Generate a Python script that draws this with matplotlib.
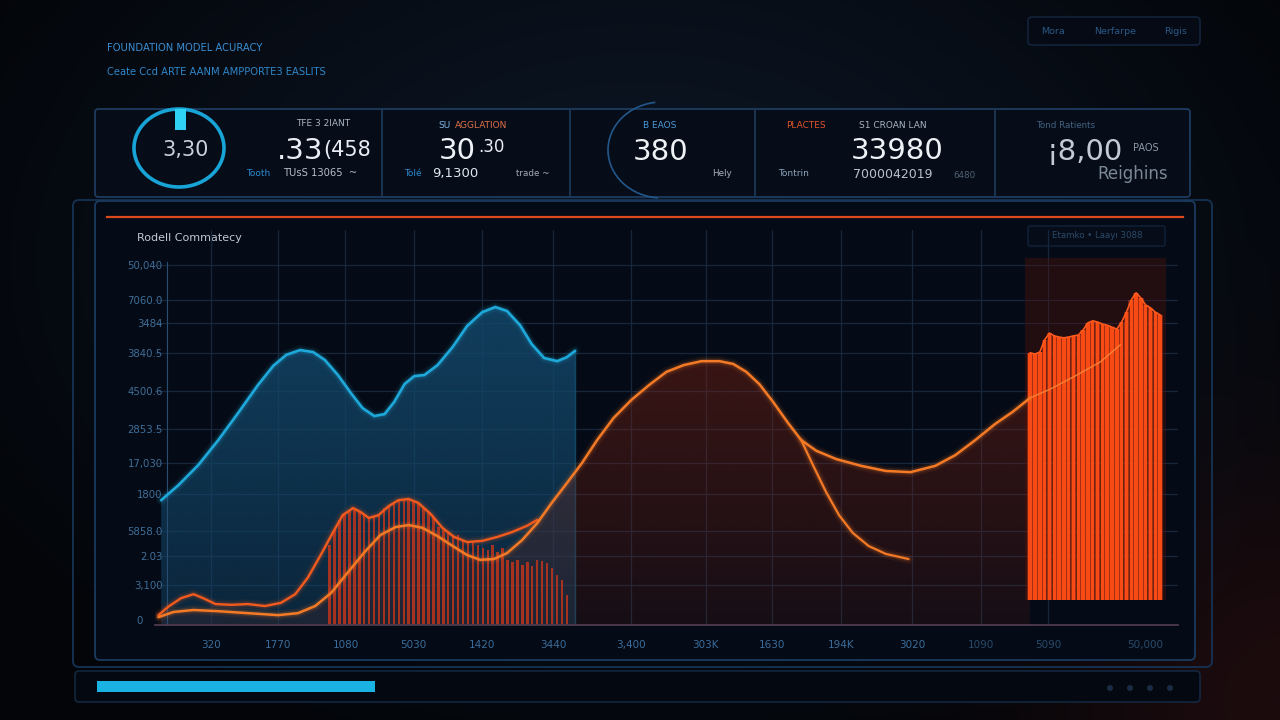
import numpy as np
import matplotlib
matplotlib.use("Agg")
import matplotlib.pyplot as plt
from matplotlib.patches import Rectangle, FancyBboxPatch, Ellipse, Arc

plt.rcParams['font.family'] = ['DejaVu Sans']

# ---------------- data ----------------
blue_x = [0.04, 0.29, 0.58, 0.87, 1.16, 1.45, 1.67, 1.86, 2.06, 2.25, 2.42, 2.61, 2.80, 2.97,
          3.14, 3.29, 3.43, 3.58, 3.72, 3.87, 4.06, 4.28, 4.49, 4.71, 4.90, 5.07, 5.26, 5.43,
          5.61, 5.80, 5.94, 6.06]
blue_y = [31.6, 35.4, 40.5, 46.8, 53.7, 60.8, 65.6, 68.4, 69.6, 69.1, 67.1, 63.3, 58.7, 54.9,
          52.9, 53.4, 56.5, 61.0, 63.0, 63.3, 65.8, 70.4, 75.7, 79.2, 80.5, 79.5, 75.9, 71.1,
          67.6, 66.8, 67.8, 69.4]

orA_x = [0.0, 0.14, 0.33, 0.51, 0.65, 0.83, 1.06, 1.30, 1.55, 1.78, 1.99, 2.17, 2.36, 2.54,
         2.68, 2.83, 2.94, 3.06, 3.20, 3.35, 3.49, 3.64, 3.78, 3.96, 4.13, 4.30, 4.49, 4.71,
         4.93, 5.14, 5.36, 5.51]
orA_y = [2.5, 4.6, 6.8, 7.8, 6.8, 5.3, 5.1, 5.3, 4.8, 5.6, 7.8, 11.9, 17.7, 23.5,
         27.8, 29.6, 28.6, 27.1, 27.8, 30.1, 31.6, 31.9, 30.9, 28.1, 24.6, 22.3, 21.0, 21.3,
         22.3, 23.5, 25.1, 26.6]

orB_x = [0.0, 0.22, 0.51, 0.87, 1.30, 1.74, 2.03, 2.28, 2.51, 2.75, 3.00, 3.23, 3.45, 3.64,
         3.84, 4.06, 4.28, 4.49, 4.68, 4.88, 5.07, 5.29, 5.51, 5.72, 5.94, 6.16, 6.38, 6.62,
         6.88, 7.14, 7.39, 7.64, 7.90, 8.16, 8.36, 8.55, 8.74, 8.94, 9.16, 9.35, 9.57, 9.86,
         10.22, 10.58, 10.94, 11.30, 11.59, 11.88, 12.17, 12.42, 12.68]
orB_y = [2.0, 3.3, 3.8, 3.5, 3.0, 2.5, 3.0, 4.8, 8.1, 13.2, 18.5, 22.8, 24.8, 25.3,
         24.6, 22.5, 20.0, 17.7, 16.5, 16.7, 18.2, 21.5, 25.8, 30.9, 35.9, 41.0, 46.8, 52.4,
         57.0, 60.8, 64.1, 65.8, 66.8, 66.8, 66.1, 64.1, 61.0, 56.5, 51.1, 46.8, 44.1, 42.0,
         40.3, 39.0, 38.7, 40.3, 43.0, 46.8, 50.9, 53.9, 57.5]
# continuation of the main orange line inside the bar block
orB2_x = [12.68, 12.97, 13.33, 13.70, 13.99]
orB2_y = [57.5, 59.7, 63.0, 66.6, 70.9]

orC_x = [9.35, 9.52, 9.71, 9.90, 10.10, 10.33, 10.58, 10.91]
orC_y = [46.8, 40.5, 33.7, 27.8, 23.3, 20.0, 18.0, 16.7]

small_bars = [20.3, 24.1, 26.6, 28.4, 29.1, 29.6, 28.9, 27.8, 27.3, 27.3, 28.1, 29.6, 30.4,
              31.1, 31.6, 31.9, 31.9, 31.4, 30.6, 29.6, 28.4, 27.1, 24.8, 24.1, 23.3, 22.3,
              22.8, 21.5, 21.0, 21.0, 20.3, 19.5, 19.0, 20.3, 18.5, 19.5, 16.5, 15.9, 16.5,
              15.2, 15.9, 14.9, 16.5, 16.2, 15.7, 14.4, 12.7, 11.4, 7.6]
small_bar_range = (2.49, 5.94)

right_bars = [68.9, 68.6, 69.1, 72.2, 73.9, 73.2, 72.9, 72.7, 72.9, 73.2, 73.4, 74.7, 76.5,
              77.0, 76.7, 76.2, 75.9, 75.4, 74.9, 76.7, 79.2, 82.3, 84.1, 82.8, 81.0, 80.3,
              79.2, 78.5]
right_bar_range = (12.68, 14.57)
right_bar_base = 6.3

y_ticks = [91.1, 82.3, 76.5, 68.9, 59.2, 49.6, 41.0, 33.2, 23.8, 17.5, 10.1]
y_labels = ["50,040", "7060.0", "3484", "3840.5", "4500.6", "2853.5", "17,030", "1800",
            "5858.0", "2.03", "3,100"]
y_zero_label = ("0", 1.0)
x_ticks = [0.77, 1.74, 2.72, 3.71, 4.71, 5.74, 6.87, 7.96, 8.93, 9.93, 10.96, 11.97, 12.94, 14.35]
x_labels = ["320", "1770", "1080", "5030", "1420", "3440", "3,400", "303K", "1630", "194K",
            "3020", "1090", "5090", "50,000"]

# ---------------- figure & background ----------------
fig = plt.figure(figsize=(12.8, 7.2), dpi=100)
bg = fig.add_axes([0, 0, 1, 1])
bg.axis('off')

yy, xx = np.mgrid[0:720:2, 0:1280:2]
d = np.sqrt(((xx - 640) / 760.0) ** 2 + ((yy - 260) / 520.0) ** 2)
t = np.clip(d, 0, 1) ** 1.2
c_center = np.array([0.05, 0.09, 0.15])
c_edge = np.array([0.012, 0.02, 0.035])
img = c_center[None, None, :] * (1 - t[..., None]) + c_edge[None, None, :] * t[..., None]
red = np.exp(-((xx - 1290) ** 2 + (yy - 700) ** 2) / (2 * 170.0 ** 2))
img = img + red[..., None] * np.array([0.10, 0.025, 0.02])
bg.imshow(np.clip(img, 0, 1), extent=[0, 1280, 720, 0], aspect='auto', zorder=0)
bg.set_xlim(0, 1280)
bg.set_ylim(720, 0)


def rbox(x0, y0, x1, y1, ec, fc='none', lw=1.0, r=4, z=1, alpha=1.0):
    p = FancyBboxPatch((x0, y0), x1 - x0, y1 - y0, boxstyle=f"round,pad=0,rounding_size={r}",
                       ec=ec, fc=fc, lw=lw, zorder=z, alpha=alpha)
    bg.add_patch(p)


# header
bg.text(107, 48, "FOUNDATION MODEL ACURACY", color='#3b8fd4', fontsize=7.2, va='center', ha='left')
bg.text(107, 72, "Ceate Ccd ARTE AANM AMPPORTE3 EASLITS", color='#2f86c8', fontsize=7.2,
        va='center', ha='left')
rbox(1028, 17, 1200, 45, ec='#12233a', fc='#050a14', lw=1.2, r=4)
for tx, s in [(1053, "Mora"), (1115, "Nerfarpe"), (1176, "Rigis")]:
    bg.text(tx, 31, s, color='#2a5886', fontsize=6.8, ha='center', va='center')

# KPI strip
rbox(95, 109, 1190, 197, ec='#1c3858', fc='#060d19', lw=1.4, r=3)
for sx in [382, 570, 755, 995]:
    bg.plot([sx, sx], [111, 195], color='#1c3858', lw=1.3, zorder=2)

bg.add_patch(Ellipse((179, 148), 90, 78, fill=False, ec='#18a4d6', lw=2.6, zorder=3))
bg.add_patch(Rectangle((175, 109), 11, 21, fc='#2fd2f2', ec='none', zorder=4))
bg.text(186, 150, "3,30", color='#c8d2dc', fontsize=15, ha='center', va='center', zorder=5)

bg.text(323, 124, "TFE 3 2IANT", color='#a9b4c1', fontsize=6.5, ha='center', va='center')
bg.text(323, 151, ".33", color='#e8eef4', fontsize=21, ha='right', va='center')
bg.text(323, 150, "(458", color='#e8eef4', fontsize=15, ha='left', va='center')
bg.text(258, 173, "Tooth", color='#2a8ad0', fontsize=6.5, ha='center', va='center')
bg.text(320, 173, "TUsS 13065  ~", color='#b4bec9', fontsize=7.2, ha='center', va='center')

bg.text(451, 125, "SU", color='#7fb6e6', fontsize=6.5, ha='right', va='center')
bg.text(455, 125, "AGGLATION", color='#e0714a', fontsize=6.5, ha='left', va='center')
bg.text(476, 151, "30", color='#eef2f6', fontsize=21, ha='right', va='center')
bg.text(478, 147, ".30", color='#e8eef4', fontsize=12, ha='left', va='center')
bg.text(413, 173, "Tolé", color='#2a8ad0', fontsize=6.5, ha='center', va='center')
bg.text(455, 173, "9,1300", color='#dfe6ee', fontsize=9.5, ha='center', va='center')
bg.text(533, 174, "trade ~", color='#a0aab6', fontsize=6.3, ha='center', va='center')

bg.add_patch(Arc((662, 150), 108, 96, theta1=95, theta2=262, ec='#23578a', lw=1.2, zorder=3))
bg.text(660, 125, "B EAOS", color='#4a9ad8', fontsize=6.5, ha='center', va='center')
bg.text(661, 152, "380", color='#eef2f6', fontsize=21, ha='center', va='center')
bg.text(722, 174, "Hely", color='#a7b1bd', fontsize=6.3, ha='center', va='center')

bg.text(806, 125, "PLACTES", color='#e0522a', fontsize=6.5, ha='center', va='center')
bg.text(893, 125, "S1 CROAN LAN", color='#a9b4c1', fontsize=6.5, ha='center', va='center')
bg.text(897, 151, "33980", color='#eef2f6', fontsize=21, ha='center', va='center')
bg.text(794, 174, "Tontrin", color='#8ea3ba', fontsize=6.5, ha='center', va='center')
bg.text(893, 175, "7000042019", color='#b9c2cc', fontsize=9, ha='center', va='center')
bg.text(965, 175, "6480", color='#4f5f70', fontsize=6.3, ha='center', va='center')

bg.text(1066, 125, "Tond Ratients", color='#43617f', fontsize=6.3, ha='center', va='center')
bg.text(1085, 152, "¡8,00", color='#c3cbd4', fontsize=21, ha='center', va='center')
bg.text(1146, 148, "PAOS", color='#8c98a5', fontsize=7, ha='center', va='center')
bg.text(1133, 174, "Reighins", color='#7a8795', fontsize=12, ha='center', va='center')

# chart panel frames
rbox(73, 200, 1212, 667, ec='#15304f', fc='none', lw=1.4, r=6)
rbox(95, 201, 1195, 660, ec='#1a3a5e', fc='#050b16', lw=1.3, r=5, alpha=1.0)
bg.plot([107, 1183], [217, 217], color='#d9491c', lw=1.6, zorder=3)
bg.text(137, 238, "Rodell Commatecy", color='#c0c8d2', fontsize=8, ha='left', va='center')
rbox(1028, 226, 1165, 246, ec='#10223a', fc='#060c18', lw=1.0, r=2)
bg.text(1097, 236, "Etamko • Laayı 3088", color='#2a4a6a', fontsize=6.2, ha='center', va='center')

# bottom progress bar
rbox(75, 671, 1200, 702, ec='#13273f', fc='#040810', lw=1.2, r=4)
bg.add_patch(Rectangle((97, 681), 278, 11, fc='#19b2e2', ec='none', zorder=3))
for dx in [1110, 1130, 1150, 1170]:
    bg.add_patch(Ellipse((dx, 688), 6, 6, fc='#1a2d45', ec='none', zorder=3))

# ---------------- chart ----------------
ax = fig.add_axes([155 / 1280, (720 - 625) / 720, (1178 - 155) / 1280, 395 / 720])
ax.set_facecolor('none')
XLIM = (-0.05, 14.83)
YLIM = (0, 100)
SPINE_X = 0.12

for s in ['top', 'right']:
    ax.spines[s].set_visible(False)
ax.spines['left'].set_position(('data', SPINE_X))
ax.spines['left'].set_bounds(0, 92)
ax.spines['left'].set_color('#2a4d72')
ax.spines['bottom'].set_color('#4e3a4c')
ax.spines['bottom'].set_linewidth(1.3)

for yt in y_ticks:
    ax.axhline(yt, color='#15263d', lw=0.9, zorder=0.5)
for xt in x_ticks[:-1]:
    ax.axvline(xt, color='#15263d', lw=0.9, zorder=0.5)


def grad_fill(x, y, rgb, a_top, a_bot, z):
    poly = ax.fill_between(x, y, 0, color='none', lw=0)
    ymax = max(y)
    n = 256
    a = np.linspace(a_bot, a_top, n)
    arr = np.zeros((n, 2, 4))
    arr[..., :3] = matplotlib.colors.to_rgb(rgb)
    arr[..., 3] = a[:, None]
    im = ax.imshow(arr, extent=[min(x), max(x), 0, ymax], origin='lower', aspect='auto',
                   zorder=z, interpolation='bilinear')
    im.set_clip_path(poly.get_paths()[0], transform=ax.transData)


grad_fill(blue_x, blue_y, '#13476a', 0.85, 0.45, 1)
ax.plot([blue_x[-1], blue_x[-1]], [0, blue_y[-1]], color='#1a6d95', lw=1.0, alpha=0.6, zorder=1.5)
grad_fill(orB_x, orB_y, '#7a2212', 0.45, 0.15, 1.6)

# small red bars
sb_x = np.linspace(small_bar_range[0], small_bar_range[1], len(small_bars))
ax.bar(sb_x, small_bars, width=0.036, color='#c0341c', alpha=0.85, zorder=2, lw=0)

# right block
rb_x = np.linspace(right_bar_range[0], right_bar_range[1], len(right_bars))
ax.add_patch(Rectangle((rb_x[0] - 0.08, right_bar_base), rb_x[-1] - rb_x[0] + 0.16,
                       93 - right_bar_base, fc='#5a1208', ec='none', alpha=0.35, zorder=1.7))
rb_h = [v - right_bar_base for v in right_bars]
ax.bar(rb_x, rb_h, bottom=right_bar_base, width=0.085, color='#ff4a14', alpha=0.35, zorder=2.5, lw=0)
ax.bar(rb_x, rb_h, bottom=right_bar_base, width=0.05, color='#ff4d16', alpha=0.95, zorder=2.6, lw=0)
ax.plot(rb_x, right_bars, color='#ff5a1e', lw=1.2, zorder=2.7)


def glow(x, y, color, lw=1.7, z=4):
    for w, a in [(7, 0.07), (4, 0.16)]:
        ax.plot(x, y, color=color, lw=w, alpha=a, solid_capstyle='round', zorder=z)
    ax.plot(x, y, color=color, lw=lw, zorder=z + 0.1, solid_capstyle='round')


glow(blue_x, blue_y, '#1ea9da', lw=1.9)
glow(orA_x, orA_y, '#f25a1e', lw=1.7)
glow(orB_x, orB_y, '#f47a26', lw=1.8)
glow(orC_x, orC_y, '#f47a26', lw=1.6)
ax.plot(orB2_x, orB2_y, color='#ff8a3a', lw=1.1, alpha=0.8, zorder=3)

ax.set_xlim(*XLIM)
ax.set_ylim(*YLIM)
ax.set_yticks(y_ticks)
ax.set_yticklabels(y_labels)
ax.set_xticks(x_ticks)
ax.set_xticklabels(x_labels)
ax.tick_params(axis='y', length=0, pad=3, labelsize=7.3, labelcolor='#3f6e98')
ax.tick_params(axis='x', length=0, pad=11, labelsize=7.5, labelcolor='#3b6c9a')
for lbl in ax.get_xticklabels()[-3:]:
    lbl.set_color('#284a6c')
ax.annotate(y_zero_label[0], xy=(SPINE_X, y_zero_label[1]), xytext=(-17, 0),
            textcoords='offset points', ha='right', va='center', fontsize=7.3,
            color='#3f6e98', annotation_clip=False)

fig.savefig("out.png", dpi=100, facecolor='#03060b')
